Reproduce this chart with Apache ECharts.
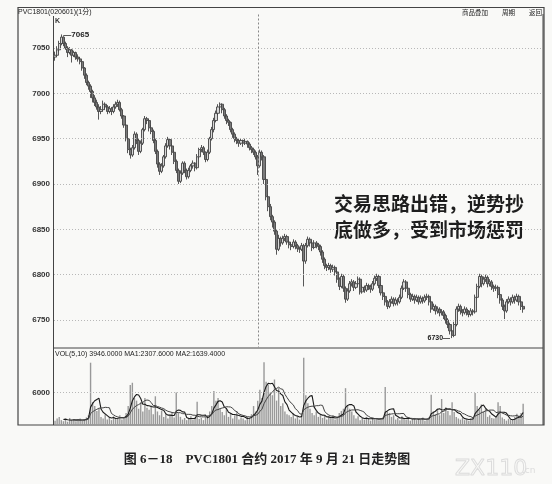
<!DOCTYPE html>
<html><head><meta charset="utf-8">
<script src="https://cdn.jsdelivr.net/npm/echarts@6/dist/echarts.min.js"></script>
<style>html,body{margin:0;padding:0;background:#f9f9f7;}#c{width:552px;height:484px;}</style>
</head><body><div id="c"></div>
<script>
// ---- data ----
const priceTicks = [6750, 6800, 6850, 6900, 6950, 7000, 7050];
const volTicks = [6000];
const sessionBreakIndex = 97;
// candles: [open, close, low, high]
const candles = [
[7040,7042,7036,7046],[7042,7048,7040,7052],[7048,7055,7046,7058],[7055,7062,7053,7065],[7062,7055,7052,7063],
[7055,7050,7048,7057],[7050,7045,7040,7052],[7045,7048,7043,7051],[7048,7042,7034,7049],[7042,7045,7040,7047],
[7045,7040,7037,7046],[7040,7038,7035,7043],[7038,7035,7032,7040],[7035,7028,7025,7036],[7028,7020,7016,7029],
[7020,7012,7009,7022],[7012,7008,7004,7014],[7008,7002,6995,7010],[7002,6995,6990,7004],[6995,6990,6986,6998],
[6990,6985,6982,6993],[6985,6980,6971,6988],[6980,6982,6977,6986],[6982,6988,6980,6992],[6988,6985,6982,6990],
[6985,6980,6977,6987],[6980,6983,6978,6986],[6983,6980,6976,6985],[6980,6985,6978,6988],[6985,6988,6983,6991],
[6988,6990,6985,6993],[6990,6982,6980,6992],[6982,6975,6972,6984],[6975,6965,6962,6976],[6965,6950,6947,6966],
[6950,6938,6934,6952],[6938,6932,6928,6940],[6932,6940,6930,6943],[6940,6955,6938,6958],[6955,6948,6944,6957],
[6948,6936,6932,6950],[6936,6945,6934,6948],[6945,6960,6943,6962],[6960,6972,6958,6975],[6972,6970,6966,6974],
[6970,6962,6958,6971],[6962,6958,6955,6965],[6958,6948,6945,6960],[6948,6936,6933,6950],[6936,6922,6918,6938],
[6922,6914,6910,6924],[6914,6920,6912,6923],[6920,6930,6918,6932],[6930,6942,6928,6945],[6942,6949,6940,6952],
[6949,6942,6938,6950],[6942,6935,6932,6944],[6935,6925,6922,6937],[6925,6915,6912,6927],[6915,6903,6900,6917],
[6903,6912,6901,6915],[6912,6923,6910,6925],[6923,6915,6912,6925],[6915,6908,6905,6917],[6908,6915,6906,6918],
[6915,6920,6913,6922],[6920,6923,6917,6926],[6923,6918,6914,6924],[6918,6930,6916,6933],[6930,6938,6928,6940],
[6938,6940,6935,6943],[6940,6935,6932,6942],[6935,6927,6924,6936],[6927,6935,6925,6938],[6935,6950,6933,6952],
[6950,6960,6948,6963],[6960,6970,6957,6973],[6970,6978,6968,6981],[6978,6985,6976,6988],[6985,6988,6982,6990],
[6988,6982,6978,6989],[6982,6975,6972,6984],[6975,6970,6966,6977],[6970,6968,6964,6972],[6968,6960,6957,6969],
[6960,6955,6951,6962],[6955,6950,6946,6957],[6950,6948,6944,6952],[6948,6945,6941,6950],[6945,6948,6943,6950],
[6948,6945,6941,6949],[6945,6947,6943,6950],[6947,6944,6940,6948],[6944,6940,6937,6946],[6940,6938,6934,6942],
[6938,6935,6932,6940],[6935,6930,6927,6937],[6930,6920,6910,6932],[6920,6935,6918,6938],[6935,6930,6926,6937],
[6930,6905,6900,6932],[6905,6886,6882,6907],[6886,6875,6870,6888],[6875,6864,6860,6878],[6864,6858,6852,6866],
[6858,6848,6844,6860],[6848,6828,6822,6850],[6828,6840,6826,6844],[6840,6835,6831,6842],[6835,6840,6833,6843],
[6840,6842,6837,6845],[6842,6836,6833,6844],[6836,6833,6829,6838],[6833,6831,6827,6835],[6831,6836,6829,6839],
[6836,6832,6828,6838],[6832,6829,6825,6834],[6829,6828,6824,6831],[6828,6832,6826,6835],[6832,6815,6787,6834],
[6815,6832,6812,6835],[6832,6839,6830,6842],[6839,6835,6831,6841],[6835,6830,6826,6837],[6830,6835,6828,6838],
[6835,6833,6829,6837],[6833,6831,6827,6835],[6831,6825,6821,6833],[6825,6817,6813,6827],[6817,6810,6806,6819],
[6810,6808,6804,6812],[6808,6810,6805,6813],[6810,6806,6802,6812],[6806,6808,6803,6811],[6808,6803,6799,6810],
[6803,6795,6791,6805],[6795,6787,6783,6797],[6787,6798,6785,6801],[6798,6785,6781,6800],[6785,6773,6769,6787],
[6773,6782,6771,6785],[6782,6790,6780,6793],[6790,6792,6787,6795],[6792,6786,6782,6794],[6786,6790,6784,6793],
[6790,6795,6788,6798],[6795,6781,6778,6797],[6781,6786,6779,6789],[6786,6783,6780,6788],[6783,6788,6781,6791],
[6788,6787,6783,6790],[6787,6784,6780,6789],[6784,6790,6782,6793],[6790,6796,6788,6799],[6796,6798,6793,6801],
[6798,6788,6785,6800],[6788,6780,6777,6790],[6780,6776,6772,6782],[6776,6770,6766,6778],[6770,6765,6762,6772],
[6765,6770,6763,6773],[6770,6773,6768,6776],[6773,6768,6765,6775],[6768,6772,6766,6775],[6772,6770,6766,6774],
[6770,6775,6768,6778],[6775,6785,6773,6788],[6785,6792,6783,6795],[6792,6785,6781,6794],[6785,6778,6774,6787],
[6778,6773,6770,6780],[6773,6776,6771,6779],[6776,6772,6768,6778],[6772,6775,6770,6778],[6775,6770,6767,6777],
[6770,6774,6768,6777],[6774,6771,6768,6776],[6771,6775,6769,6778],[6775,6776,6772,6779],[6776,6770,6766,6778],
[6770,6762,6758,6772],[6762,6765,6760,6768],[6765,6760,6756,6767],[6760,6762,6757,6765],[6762,6758,6754,6764],
[6758,6759,6755,6762],[6759,6755,6751,6761],[6755,6750,6746,6757],[6750,6745,6741,6752],[6745,6738,6734,6747],
[6738,6733,6730,6740],[6733,6745,6731,6748],[6745,6762,6743,6765],[6762,6765,6759,6768],[6765,6760,6756,6767],
[6760,6758,6754,6762],[6758,6762,6756,6765],[6762,6759,6755,6764],[6759,6756,6753,6761],[6756,6760,6754,6763],
[6760,6759,6755,6762],[6759,6775,6757,6778],[6775,6787,6773,6790],[6787,6798,6785,6801],[6798,6790,6786,6800],
[6790,6795,6788,6798],[6795,6797,6792,6800],[6797,6790,6786,6799],[6790,6792,6787,6795],[6792,6787,6783,6794],
[6787,6785,6781,6789],[6785,6786,6782,6789],[6786,6778,6774,6788],[6778,6772,6768,6780],[6772,6765,6761,6774],
[6765,6760,6751,6767],[6760,6770,6758,6773],[6770,6773,6768,6776],[6773,6770,6766,6775],[6770,6775,6768,6778],
[6775,6772,6768,6777],[6772,6776,6770,6779],[6776,6770,6766,6778],[6770,6765,6761,6772],[6765,6762,6758,6767]
];
const volumes = [
800,1200,1500,900,700,1100,600,1300,800,1000,
700,900,1200,800,1000,1400,1800,11500,4200,3500,
2600,3000,1500,1200,2000,1000,1400,900,1600,1100,
1300,1800,1000,1500,2200,3500,7400,7800,5000,4500,
3000,4200,2500,5000,3200,2800,3600,2000,5300,2500,
1800,2600,1500,2000,1200,1800,2400,1400,6000,2200,
1500,1000,1300,900,1200,1600,1000,1400,4300,1100,
1300,900,1500,1800,2500,3500,6300,4500,5000,3000,
2400,1800,3000,1500,2200,1200,1800,2600,1000,1400,
1200,900,1500,1300,2000,3500,2500,4500,6500,5000,
11600,8000,7500,6000,5500,8400,4500,6800,3500,4000,
2500,2000,1800,1500,2200,1200,1500,1000,1800,12400,
5500,4000,3000,2200,1800,2500,1500,2000,1300,1700,
1000,1500,1200,1800,1000,1400,2200,2600,3000,6800,
3500,3000,2500,1800,1200,1600,900,1300,1000,1500,
1200,800,1400,1000,1300,900,1100,1500,7000,2500,
2200,1500,1800,1000,1300,900,1600,1200,1000,1400,
800,1100,1300,900,1200,1000,1400,800,1100,1500,
5600,2500,2000,3000,1800,4800,2200,3300,2600,1800,
4200,2400,1500,1200,1000,1300,900,1100,800,1200,
1500,5900,3500,2800,3800,2500,3000,1500,1800,1300,
1200,1500,4200,3500,1400,1100,800,1150,900,906,
1500,2100,1792,2200,3946
];
const slotCount = 234;
const categories = [];
for (let i = 0; i < slotCount; i++) categories.push(String(i + 1));

function movingAverage(arr, n) {
  return arr.map((v, i) => {
    if (i < n - 1) return '-';
    let s = 0;
    for (let k = i - n + 1; k <= i; k++) s += arr[k];
    return +(s / n).toFixed(2);
  });
}
const ma5 = movingAverage(volumes, 5);
const ma10 = movingAverage(volumes, 10);
const last = volumes.length - 1;
const volLabel = 'VOL(5,10) ' + volumes[last].toFixed(4) + ' MA1:' + ma5[last].toFixed(4) + ' MA2:' + ma10[last].toFixed(4);

const chart = echarts.init(document.getElementById('c'));
const lineCol = '#444';
const labelFont = {fontFamily: 'Liberation Sans', fontSize: 8, fontWeight: 'bold', color: '#333'};

chart.setOption({
  backgroundColor: '#f9f9f7',
  animation: false,
  grid: [
    {left: 54, top: 2.7, width: 489, height: 362.6},
    {left: 54, top: 327.5, width: 489, height: 97.5}
  ],
  xAxis: [
    {type: 'category', gridIndex: 0, data: categories, boundaryGap: true, show: false},
    {type: 'category', gridIndex: 1, data: categories, boundaryGap: true, show: false}
  ],
  yAxis: [
    {type: 'value', gridIndex: 0, min: 6700, max: 7100, interval: 50, scale: true,
     axisLine: {show: false}, axisTick: {show: false}, splitLine: {show: false},
     axisLabel: Object.assign({margin: 4, formatter: v => priceTicks.includes(v) ? String(v) : ''}, labelFont)},
    {type: 'value', gridIndex: 1, min: 0, max: 18000, interval: 6000,
     axisLine: {show: false}, axisTick: {show: false}, splitLine: {show: false},
     axisLabel: Object.assign({margin: 4, formatter: v => volTicks.includes(v) ? String(v) : ''}, labelFont)}
  ],
  series: [
    {
      type: 'candlestick', xAxisIndex: 0, yAxisIndex: 0, data: candles, barWidth: 2.6,
      itemStyle: {color: '#d8d8d8', color0: '#7a7a7a', borderColor: '#444', borderColor0: '#444', borderWidth: 0.9},
      markLine: {
        silent: true, symbol: 'none', animation: false, label: {show: false},
        data: priceTicks.map(t => ({yAxis: t, lineStyle: {color: '#b8b8b8', type: [1, 2], width: 1}}))
          .concat([[{coord: [sessionBreakIndex, 7087], lineStyle: {color: '#888', type: [2, 2], width: 1}}, {coord: [sessionBreakIndex, 6720]}]])
      },
      markPoint: {
        symbol: 'rect', symbolSize: 0, silent: true,
        data: [
          {type: 'max', valueDim: 'highest', label: {show: true, position: 'right', distance: 2, formatter: p => '—' + p.value, fontFamily: 'Liberation Sans', fontSize: 8, fontWeight: 'bold', color: '#222'}},
          {type: 'min', valueDim: 'lowest', label: {show: true, position: 'left', distance: 2, formatter: p => p.value + '—', fontFamily: 'Liberation Sans', fontSize: 7, fontWeight: 'bold', color: '#222'}}
        ]
      }
    },
    {
      type: 'bar', xAxisIndex: 1, yAxisIndex: 1, data: volumes, barWidth: 1.4,
      itemStyle: {color: '#999'},
      markLine: {silent: true, symbol: 'none', label: {show: false},
        data: volTicks.map(t => ({yAxis: t, lineStyle: {color: '#b8b8b8', type: [1, 2], width: 1}}))}
    },
    {type: 'line', xAxisIndex: 1, yAxisIndex: 1, data: ma5, symbol: 'none', lineStyle: {color: '#1a1a1a', width: 1.1}},
    {type: 'line', xAxisIndex: 1, yAxisIndex: 1, data: ma10, symbol: 'none', lineStyle: {color: '#444', width: 1}}
  ],
  graphic: [
    {type: 'rect', shape: {x: 18, y: 7.5, width: 526, height: 417.5}, style: {fill: 'none', stroke: lineCol, lineWidth: 1.2}, silent: true},
    {type: 'line', shape: {x1: 53.5, y1: 16, x2: 53.5, y2: 425}, style: {stroke: lineCol, lineWidth: 1}, silent: true},
    {type: 'line', shape: {x1: 53.5, y1: 348, x2: 543, y2: 348}, style: {stroke: lineCol, lineWidth: 1}, silent: true},
    {type: 'line', shape: {x1: 543, y1: 14, x2: 543, y2: 425}, style: {stroke: lineCol, lineWidth: 1}, silent: true},
    {type: 'text', x: 18, y: 9, style: {text: 'PVC1801(020601)(1分)', font: '7px "Liberation Sans", "Noto Sans CJK SC"', fill: '#222'}},
    {type: 'text', x: 462, y: 9, style: {text: '商品叠加', font: '6.5px "Noto Sans CJK SC"', fill: '#222'}},
    {type: 'text', x: 502, y: 9, style: {text: '周期', font: '6.5px "Noto Sans CJK SC"', fill: '#222'}},
    {type: 'text', x: 529, y: 9, style: {text: '返回', font: '6.5px "Noto Sans CJK SC"', fill: '#222'}},
    {type: 'text', x: 55, y: 18, style: {text: 'K', font: 'bold 7px "Liberation Sans"', fill: '#333'}},
    {type: 'text', x: 55, y: 351, style: {text: volLabel, font: '7px "Liberation Sans"', fill: '#222'}},
    {type: 'text', x: 334, y: 194, style: {text: '交易思路出错，逆势抄', font: 'bold 19px "Noto Sans CJK SC"', fill: '#1e1e1e'}},
    {type: 'text', x: 334, y: 220, style: {text: '底做多，受到市场惩罚', font: 'bold 19px "Noto Sans CJK SC"', fill: '#1e1e1e'}},
    {type: 'text', x: 267, y: 460, style: {text: '图 6－18　PVC1801 合约 2017 年 9 月 21 日走势图', font: 'bold 13px "Liberation Serif", "Noto Sans CJK SC"', fill: '#222', textAlign: 'center', textVerticalAlign: 'middle'}},
    {type: 'text', x: 455, y: 458, style: {text: 'ZX110', font: '22px "DejaVu Sans"', fill: 'none', stroke: '#dcdcdc', lineWidth: 1}},
    {type: 'text', x: 522, y: 466, style: {text: '.cn', font: '9px "DejaVu Sans"', fill: '#dcdcdc'}}
  ]
});
</script></body></html>
